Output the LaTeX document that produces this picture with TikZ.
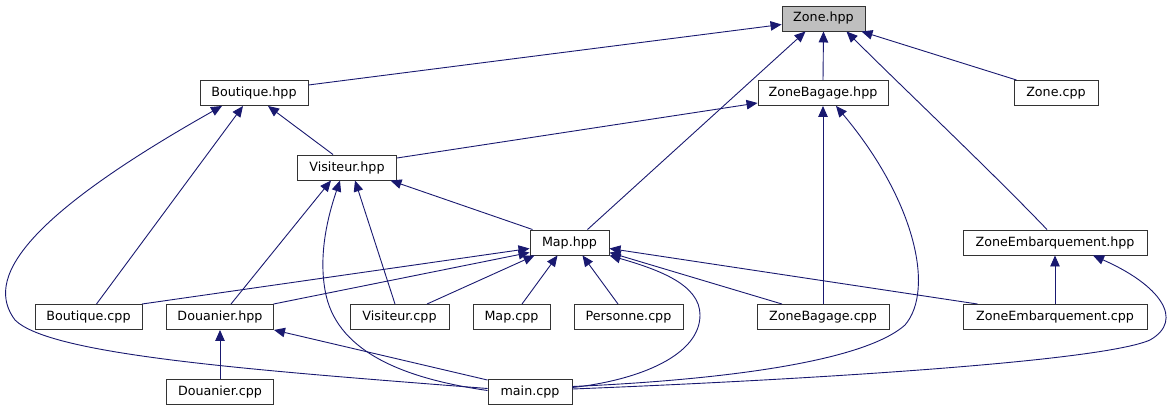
\documentclass[tikz,border=0pt]{standalone}
\usepackage{fontspec}
\setmainfont{DejaVu Sans}
\usetikzlibrary{calc,arrows.meta}
\definecolor{edgeblue}{HTML}{191970}
\definecolor{zonegray}{HTML}{BFBFBF}
\begin{document}
\begin{tikzpicture}[x=1pt,y=-1pt,
  file/.style={draw=black!80,line width=0.95pt,fill=white,minimum height=25pt,inner sep=0pt,
    font=\fontsize{12.7}{15}\selectfont},
  dep/.style={draw=edgeblue,line width=0.9pt,-{Triangle[length=11pt,width=9.5pt]},fill=none}]
\useasboundingbox (0,0) rectangle (1172,411);
% nodes
\node[file,fill=zonegray,minimum width=83pt] (zone) at (823.5,18.5) {Zone.hpp};
\node[file,minimum width=108pt] (boutH) at (254,93) {Boutique.hpp};
\node[file,minimum width=130pt] (zbH) at (823,93) {ZoneBagage.hpp};
\node[file,minimum width=84pt] (zcpp) at (1056,93) {Zone.cpp};
\node[file,minimum width=99pt] (visH) at (347,167.5) {Visiteur.hpp};
\node[file,minimum width=79pt] (mapH) at (569.5,242.5) {Map.hpp};
\node[file,minimum width=184pt] (zeH) at (1055,242.5) {ZoneEmbarquement.hpp};
\node[file,minimum width=107pt] (boutC) at (88.5,317) {Boutique.cpp};
\node[file,minimum width=107pt] (douH) at (220,317) {Douanier.hpp};
\node[file,minimum width=99pt] (visC) at (399.5,317) {Visiteur.cpp};
\node[file,minimum width=77pt] (mapC) at (511.5,317) {Map.cpp};
\node[file,minimum width=109pt] (persC) at (628.5,317) {Personne.cpp};
\node[file,minimum width=132pt] (zbC) at (823,317) {ZoneBagage.cpp};
\node[file,minimum width=184pt] (zeC) at (1055,317) {ZoneEmbarquement.cpp};
\node[file,minimum width=107pt] (douC) at (220,391.5) {Douanier.cpp};
\node[file,minimum width=84pt] (main) at (530,391.5) {main.cpp};
% straight connectors
\draw[dep] ($(boutH.east)+(0,-8)$) -- ($(zone.west)+(0,6)$);
\draw[dep] ($(mapH.north)+(18,0)$) -- ($(zone.south)+(-18,0)$);
\draw[dep] (zbH.north) -- (zone.south);
\draw[dep] ($(zeH.north)+(-8,0)$) .. controls (990,170) and (900,85) .. ($(zone.south)+(23,0)$);
\draw[dep] ($(zcpp.north west)+(3,0)$) -- ($(zone.south east)+(-4,0)$);
\draw[dep] ($(visH.north)+(-14,0)$) -- ($(boutH.south)+(14,0)$);
\draw[dep] ($(boutC.north)+(8,0)$) -- ($(boutH.south)+(-11,0)$);
\draw[dep] ($(visH.east)+(0,-9.5)$) -- ($(zbH.west)+(0,10)$);
\draw[dep] (zbC.north) -- (zbH.south);
\draw[dep] ($(mapH.north west)+(3,0)$) -- ($(visH.south east)+(-6.5,0)$);
\draw[dep] ($(douH.north)+(11,0)$) -- ($(visH.south)+(-16,0)$);
\draw[dep] ($(visC.north)+(-4.5,0)$) -- ($(visH.south)+(8,0)$);
\draw[dep] ($(boutC.north east)+(-0.5,0)$) -- ($(mapH.west)+(0,6)$);
\draw[dep] ($(douH.north east)+(-0.5,0)$) -- ($(mapH.west)+(0,10)$);
\draw[dep] ($(visC.north)+(27.5,0)$) -- ($(mapH.south west)+(5,0)$);
\draw[dep] ($(mapC.north)+(10.5,0)$) -- ($(mapH.south)+(-12,0)$);
\draw[dep] ($(persC.north)+(-10.5,0)$) -- ($(mapH.south)+(13,0)$);
\draw[dep] ($(zbC.north)+(-41,0)$) -- ($(mapH.east)+(0,10)$);
\draw[dep] ($(zeC.north west)+(15,0)$) -- ($(mapH.east)+(0,6)$);
\draw[dep] (zeC.north) -- (zeH.south);
\draw[dep] (douC.north) -- (douH.south);
\draw[dep] ($(main.north west)+(0,1.5)$) -- (douH.south east);
% curved connectors from main.cpp
\draw[dep] ($(main.west)+(0,-3)$) .. controls (250,370) and (50,355) .. (15,320)
  .. controls (-15,280) and (20,220) .. ($(boutH.south)+(-32,0)$);
\draw[dep] ($(main.west)+(0,-1)$) .. controls (400,378) and (335,350) .. (325,290)
  .. controls (318,250) and (330,210) .. ($(visH.south)+(-7,0)$);
\draw[dep] ($(main.east)+(0,-4)$) .. controls (640,380) and (700,355) .. (700,315)
  .. controls (700,285) and (660,270) .. (mapH.south east);
\draw[dep] ($(main.east)+(0,-5)$) .. controls (700,381) and (860,365) .. (905,325)
  .. controls (935,290) and (915,200) .. ($(zbH.south)+(13,0)$);
\draw[dep] ($(main.east)+(0,-2.5)$) .. controls (800,380) and (1100,362) .. (1150,340)
  .. controls (1185,320) and (1160,285) .. ($(zeH.south)+(38,0)$);
\end{tikzpicture}
\end{document}
